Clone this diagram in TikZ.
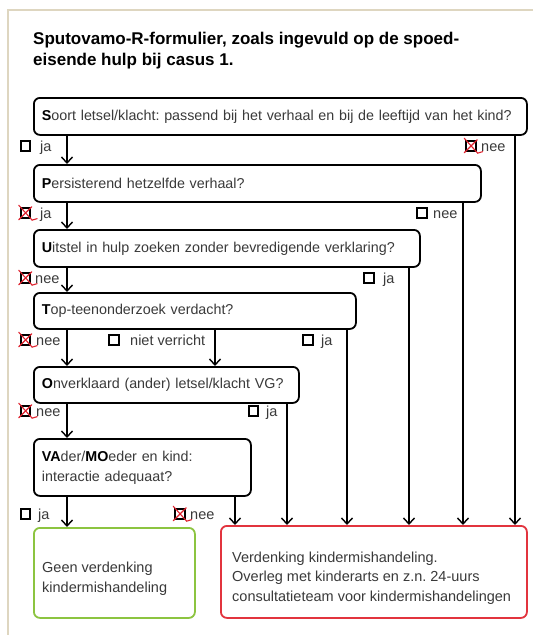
\documentclass[tikz,border=0pt]{standalone}
\usepackage{fontspec}
\setmainfont{Liberation Sans}
\usetikzlibrary{arrows.meta,calc}
\definecolor{beige}{RGB}{222,214,192}
\definecolor{okgreen}{RGB}{140,196,64}
\definecolor{alarmred}{RGB}{226,52,62}
\definecolor{markred}{RGB}{222,32,44}
\definecolor{txt}{RGB}{58,58,58}
\newcommand\markX[1]{%
  \draw[xmark] ($(#1.north west)+(-1,-2)$) -- ($(#1.south east)+(1,1.5)$) to[out=0,in=200] ++(5,-1.5);
  \draw[xmark] ($(#1.north east)+(0.5,-0.5)$) -- ($(#1.south west)+(-1,1)$);}
\begin{document}
\frenchspacing
\begin{tikzpicture}[x=1pt,y=-1pt,
  qbox/.style={draw=black, line width=1.8pt, rounded corners=6pt, anchor=north west,
    inner xsep=8pt, inner ysep=0pt, align=left, text=txt,
    font=\fontsize{14.3}{20}\selectfont},
  outbox/.style={draw=#1, line width=1.8pt, rounded corners=6pt, anchor=north west, inner sep=0pt},
  outtext/.style={anchor=west, align=left, inner sep=0pt, text=txt, font=\fontsize{14.5}{19.5}\selectfont},
  arr/.style={line width=1.4pt, -{Straight Barb[length=6pt,width=11pt]}},
  cb/.style={draw=black, line width=1.8pt, minimum size=9.5pt, inner sep=0pt},
  xmark/.style={draw=markred, line width=1.1pt, line cap=round},
  lbl/.style={anchor=base west, inner sep=0pt, text=txt, font=\fontsize{14.5}{17}\selectfont}
]
\useasboundingbox (0,0) rectangle (533,635);
\fill[white] (0,0) rectangle (533,635);
\draw[beige, line width=2pt] (533,9.5) -- (7.5,9.5) -- (7.5,635);

% title
\node[anchor=base west, inner sep=0pt, align=left, font=\bfseries\fontsize{17}{21}\selectfont] (title) at (33,65)
  {Sputovamo-R-formulier, zoals ingevuld op de spoed-\\eisende hulp bij casus 1.};

% question boxes
\node[qbox, text width=477pt, minimum height=37pt] (q1) at (33,97)
  {\textcolor{black}{\bfseries S}oort letsel/klacht: passend bij het verhaal en bij de leeftijd van het kind?};
\node[qbox, text width=431pt, minimum height=37pt] (q2) at (33,164)
  {\textcolor{black}{\bfseries P}ersisterend hetzelfde verhaal?};
\node[qbox, text width=370pt, minimum height=37pt] (q3) at (33,229)
  {\textcolor{black}{\bfseries U}itstel in hulp zoeken zonder bevredigende verklaring?};
\node[qbox, text width=306pt, minimum height=36pt] (q4) at (33,292)
  {\textcolor{black}{\bfseries T}op-teenonderzoek verdacht?};
\node[qbox, text width=249pt, minimum height=36pt] (q5) at (33,366)
  {\textcolor{black}{\bfseries O}nverklaard (ander) letsel/klacht VG?};
\node[qbox, text width=201pt, minimum height=57pt] (q6) at (33,438)
  {\textcolor{black}{\bfseries VA}der/\textcolor{black}{\bfseries MO}eder en kind:\\interactie adequaat?};

% outcome boxes
\node[outbox=okgreen, minimum width=161pt, minimum height=90pt] (green) at (33,527) {};
\node[outtext] (greentext) at ($(green.west)+(9,6)$) {Geen verdenking\\kindermishandeling};
\node[outbox=alarmred, minimum width=306pt, minimum height=92pt] (red) at (220,525) {};
\node[outtext] (redtext) at ($(red.west)+(12,6)$)
  {Verdenking kindermishandeling.\\Overleg met kinderarts en z.n. 24-uurs\\consultatieteam voor kindermishandelingen};

% columns
\coordinate (cL) at (67,0);
\coordinate (cV) at (215,0);
\coordinate (c6) at (235,0);
\coordinate (c5) at (287,0);
\coordinate (c4) at (347,0);
\coordinate (c3) at (409,0);
\coordinate (c2) at (463,0);
\coordinate (c1) at (515,0);

% connectors
\draw[arr] (q1.south -| cL) -- (q2.north -| cL);
\draw[arr] (q2.south -| cL) -- (q3.north -| cL);
\draw[arr] (q3.south -| cL) -- (q4.north -| cL);
\draw[arr] (q4.south -| cL) -- (q5.north -| cL);
\draw[arr] (q4.south -| cV) -- (q5.north -| cV);
\draw[arr] (q5.south -| cL) -- (q6.north -| cL);
\draw[arr] (q6.south -| cL) -- (green.north -| cL);
\draw[arr] (q6.south -| c6) -- (red.north -| c6);
\draw[arr] (q5.south -| c5) -- (red.north -| c5);
\draw[arr] (q4.south -| c4) -- (red.north -| c4);
\draw[arr] (q3.south -| c3) -- (red.north -| c3);
\draw[arr] (q2.south -| c2) -- (red.north -| c2);
\draw[arr] (q1.south -| c1) -- (red.north -| c1);

% row 1
\node[cb] (b1ja) at (25.5,146) {};
\node[lbl] (l1ja) at (40,151) {ja};
\node[cb] (b1nee) at (471,146) {};
\node[lbl] (l1nee) at (481,151) {nee};
\markX{b1nee}
% row 2
\node[cb] (b2ja) at (25.5,213) {};
\node[lbl] (l2ja) at (40,218) {ja};
\markX{b2ja}
\node[cb] (b2nee) at (422,213) {};
\node[lbl] (l2nee) at (433,218) {nee};
% row 3
\node[cb] (b3nee) at (25.5,278) {};
\node[lbl] (l3nee) at (35,283) {nee};
\markX{b3nee}
\node[cb] (b3ja) at (369,278) {};
\node[lbl] (l3ja) at (383,283) {ja};
% row 4
\node[cb] (b4nee) at (25.5,340) {};
\node[lbl] (l4nee) at (36,345) {nee};
\markX{b4nee}
\node[cb] (b4nv) at (114,340) {};
\node[lbl] (l4nv) at (130,345) {niet verricht};
\node[cb] (b4ja) at (308,340) {};
\node[lbl] (l4ja) at (321,345) {ja};
% row 5
\node[cb] (b5nee) at (25.5,411) {};
\node[lbl] (l5nee) at (36,416) {nee};
\markX{b5nee}
\node[cb] (b5ja) at (253.5,411) {};
\node[lbl] (l5ja) at (266,416) {ja};
% row 6
\node[cb] (b6ja) at (25.5,514) {};
\node[lbl] (l6ja) at (38,519) {ja};
\node[cb] (b6nee) at (180,514) {};
\node[lbl] (l6nee) at (190,519) {nee};
\markX{b6nee}
\end{tikzpicture}
\end{document}
